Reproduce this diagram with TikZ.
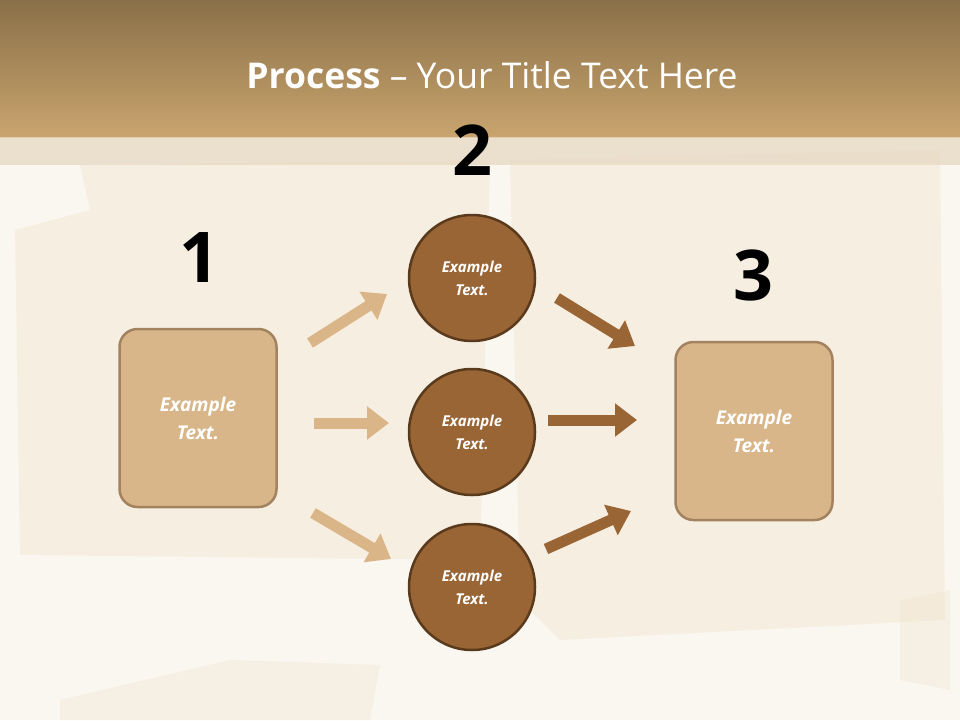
\documentclass[tikz,border=0pt]{standalone}
\usepackage{fontspec}
\setmainfont{Open Sans}
\usetikzlibrary{arrows.meta}
\definecolor{bg}{HTML}{FAF7F1}
\definecolor{scroll}{HTML}{F3E7D2}
\definecolor{htop}{HTML}{8A7048}
\definecolor{hbot}{HTML}{C9A46E}
\definecolor{band}{HTML}{E8D9C4}
\definecolor{boxfill}{HTML}{D8B68A}
\definecolor{boxline}{HTML}{A38260}
\definecolor{circfill}{HTML}{9A6535}
\definecolor{circline}{HTML}{5A3A1C}
\definecolor{lightarr}{HTML}{D9B587}
\tikzset{
 x=1pt,y=-1pt,
 stepbox/.style={rectangle,rounded corners=18pt,minimum width=157pt,minimum height=178pt,fill=boxfill,draw=boxline,line width=2.5pt,text=white,font=\bfseries\itshape\fontsize{19}{28}\selectfont,align=center},
 circ/.style={circle,minimum size=126pt,fill=circfill,draw=circline,line width=2.5pt,text=white,font=\bfseries\itshape\fontsize{15}{23}\selectfont,align=center,inner sep=0pt},
 num/.style={font=\bfseries\fontsize{70}{70}\selectfont,text=black},
 arr/.style={line width=11pt,-{Triangle[length=22pt,width=32pt]}},
}
\begin{document}
\begin{tikzpicture}
\useasboundingbox (0,0) rectangle (960,720);
\fill[bg] (0,0) rectangle (960,720);
% faint scrolls
\fill[scroll,opacity=.5] (15,230) -- (90,210) -- (80,165) -- (490,160) -- (480,560) -- (20,555) -- cycle;
\fill[scroll,opacity=.5] (510,160) -- (940,150) -- (945,620) -- (560,640) -- (520,600) -- cycle;
\fill[scroll,opacity=.45] (60,700) -- (230,660) -- (380,665) -- (370,720) -- (60,720) -- cycle;
\fill[scroll,opacity=.45] (900,600) -- (950,590) -- (950,690) -- (900,680) -- cycle;
% header
\shade[top color=htop,bottom color=hbot] (0,0) rectangle (960,137);
\fill[band,opacity=.8] (0,137) rectangle (960,165);
\node[text=white,font=\fontsize{35.5}{40}\selectfont] (title) at (492,75) {\textbf{Process} -- Your Title Text Here};
% numbers
\node[num] (n1) at (199,258) {1};
\node[num] (n2) at (472,150) {2};
\node[num] (n3) at (753,275) {3};
% boxes
\node[stepbox] (b1) at (198,418) {Example\\Text.};
\node[stepbox] (b3) at (754,431) {Example\\Text.};
\node[circ] (c1) at (472,278) {Example\\Text.};
\node[circ] (c2) at (472,432) {Example\\Text.};
\node[circ] (c3) at (472,587) {Example\\Text.};
% arrow coordinates
\coordinate (a1s) at (310,343); \coordinate (a1e) at (387,294);
\coordinate (a2s) at (314,423); \coordinate (a2e) at (389,423);
\coordinate (a3s) at (313,513); \coordinate (a3e) at (391,559);
\coordinate (d1s) at (557,298); \coordinate (d1e) at (635,346);
\coordinate (d2s) at (548,420); \coordinate (d2e) at (637,420);
\coordinate (d3s) at (546,549); \coordinate (d3e) at (631,511);
\draw[arr,lightarr] (a1s) -- (a1e);
\draw[arr,lightarr] (a2s) -- (a2e);
\draw[arr,lightarr] (a3s) -- (a3e);
\draw[arr,circfill] (d1s) -- (d1e);
\draw[arr,circfill] (d2s) -- (d2e);
\draw[arr,circfill] (d3s) -- (d3e);
\end{tikzpicture}
\end{document}
